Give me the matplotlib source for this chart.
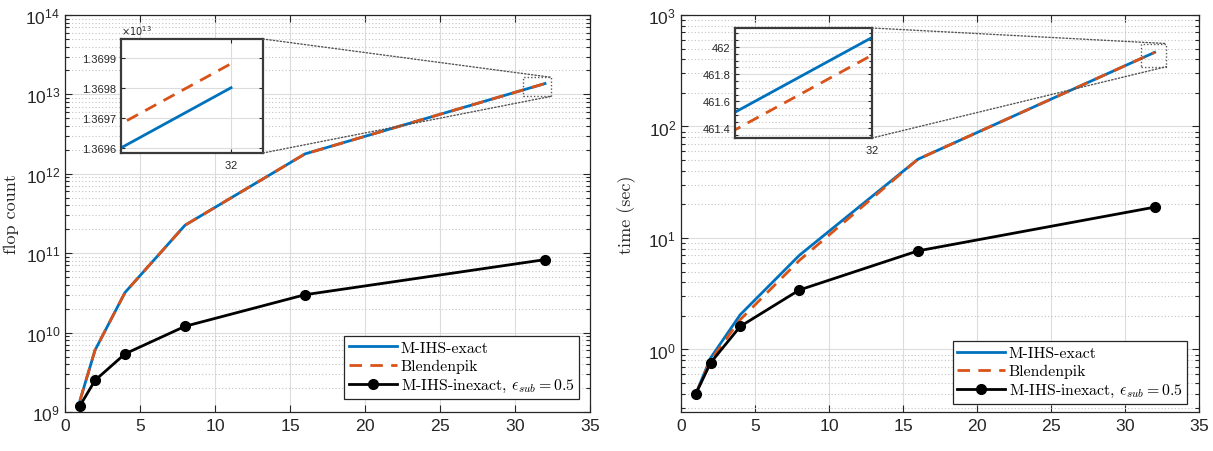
import matplotlib
matplotlib.use('Agg')
import matplotlib.pyplot as plt
from matplotlib.patches import Rectangle, ConnectionPatch
from matplotlib.ticker import LogLocator, NullFormatter, FixedLocator, FuncFormatter, MultipleLocator
from matplotlib.font_manager import FontProperties

plt.rcParams['font.family'] = ['Liberation Sans', 'DejaVu Sans']
plt.rcParams['mathtext.fontset'] = 'cm'
plt.rcParams['axes.formatter.use_mathtext'] = True

# ---------------- data ----------------
procs = [1, 2, 4, 8, 16, 32]
flops_exact = [1.4e9, 6.0e9, 3.2e10, 2.25e11, 1.78e12, 1.36980e13]
flops_blend = [1.4e9, 6.0e9, 3.2e10, 2.25e11, 1.78e12, 1.36988e13]
flops_inexact = [1.2e9, 2.5e9, 5.4e9, 1.2e10, 3.0e10, 8.3e10]
time_exact = [0.40, 0.84, 2.05, 7.0, 50.8, 462.07]
time_blend = [0.40, 0.80, 1.85, 6.3, 50.8, 461.94]
time_inexact = [0.40, 0.76, 1.61, 3.42, 7.66, 18.9]

labels = ['M-IHS-exact', 'Blendenpik', r'M-IHS-inexact, $\epsilon_{sub} = 0.5$']
ylabels = ['flop count', 'time (sec)']
xticks = [0, 5, 10, 15, 20, 25, 30, 35]

BLUE = '#0072BD'
ORANGE = '#D95319'
AXC = '#262626'
GRIDC = '#dcdcdc'
MINORC = '#c4c4c4'

W, H = 1213, 452
fig = plt.figure(figsize=(W / 100, H / 100), dpi=100)

def fig_rect(x0, y0, x1, y1):
    return [x0 / W, 1 - y1 / H, (x1 - x0) / W, (y1 - y0) / H]

ax1 = fig.add_axes(fig_rect(65, 16, 590, 413))
ax2 = fig.add_axes(fig_rect(681, 16, 1199, 413))

cmfont = FontProperties(family='cmr10', size=11.4)
cmlabel = FontProperties(family='cmr10', size=13)

def draw_main(ax, ye, yb, yi, ylim, ylabel, lab_x, leg_anchor):
    ax.plot(procs, ye, color=BLUE, lw=2, label=labels[0], zorder=3)
    ax.plot(procs, yb, color=ORANGE, lw=2, ls=(0, (4.5, 3)), label=labels[1], zorder=4)
    ax.plot(procs, yi, color='black', lw=2, marker='o', ms=7, label=labels[2], zorder=5)
    ax.set_yscale('log')
    ax.set_xlim(0, 35)
    ax.set_ylim(*ylim)
    ax.set_xticks(xticks)
    ax.yaxis.set_major_locator(LogLocator(base=10, numticks=20))
    ax.yaxis.set_minor_locator(LogLocator(base=10, subs=range(2, 10), numticks=100))
    ax.yaxis.set_minor_formatter(NullFormatter())
    ax.tick_params(which='both', direction='in', top=True, right=True, colors=AXC,
                   labelsize=12.5, width=0.8)
    ax.tick_params(which='major', length=5)
    ax.tick_params(which='minor', length=3)
    ax.grid(True, which='major', color=GRIDC, lw=0.8, zorder=0)
    ax.grid(True, which='minor', axis='y', color=MINORC, lw=0.8, ls=(0, (1, 2)), zorder=0)
    ax.set_axisbelow(True)
    for s in ax.spines.values():
        s.set_color(AXC)
        s.set_linewidth(0.9)
    ax.set_ylabel(ylabel, fontproperties=cmlabel, color=AXC)
    ax.yaxis.set_label_coords(lab_x, 0.5)
    leg = ax.legend(loc='lower right', bbox_to_anchor=leg_anchor, borderaxespad=0,
                    prop=cmfont, fancybox=False, framealpha=1, edgecolor=AXC,
                    handlelength=3.0, handletextpad=0.25, labelspacing=0.25,
                    borderpad=0.3)
    leg.get_frame().set_linewidth(0.9)
    leg.set_zorder(10)

draw_main(ax1, flops_exact, flops_blend, flops_inexact, (1e9, 1e14), ylabels[0], -0.088, (0.979, 0.033))
draw_main(ax2, time_exact, time_blend, time_inexact, (0.275, 1e3), ylabels[1], -0.086, (0.977, 0.02))

def draw_inset(ax, rect, ye, yb, xlim, ylim, yticks, fmt, minor=None, rect_box=None):
    ins = fig.add_axes(rect)
    ins.plot(procs, ye, color=BLUE, lw=2)
    ins.plot(procs, yb, color=ORANGE, lw=2, ls=(0, (4.5, 3)))
    ins.set_xlim(*xlim)
    ins.set_ylim(*ylim)
    ins.set_xticks([32])
    ins.set_yticks(yticks)
    ins.yaxis.set_major_formatter(FuncFormatter(fmt))
    ins.tick_params(which='both', direction='in', top=True, right=True, colors=AXC,
                    labelsize=8, length=3, width=0.8)
    ins.grid(True, which='major', color=GRIDC, lw=0.8)
    if minor is not None:
        ins.yaxis.set_minor_locator(MultipleLocator(minor))
        ins.grid(True, which='minor', axis='y', color=MINORC, lw=0.8, ls=(0, (1, 2)))
        ins.tick_params(which='minor', length=2)
    ins.set_axisbelow(True)
    for s in ins.spines.values():
        s.set_color('#3a3a3a')
        s.set_linewidth(1.6)
    # zoom box in main axes
    (rx0, rx1), (ry0, ry1) = rect_box
    ax.add_patch(Rectangle((rx0, ry0), rx1 - rx0, ry1 - ry0, fill=False,
                           ls=(0, (1, 1.5)), lw=1, edgecolor='#555555', zorder=6))
    for ya, yb_ in ((1, ry1), (0, ry0)):
        con = ConnectionPatch(xyA=(1, ya), coordsA=ins.transAxes,
                              xyB=(rx1, yb_), coordsB=ax.transData,
                              ls=(0, (1, 1.5)), lw=1, color='#555555', zorder=6)
        fig.add_artist(con)
    return ins

x_last = procs[-1]
ins1 = draw_inset(ax1, fig_rect(121, 40, 263, 154), flops_exact, flops_blend,
                  (31.997315, 32.00078), (1.369583e13, 1.369962e13),
                  [1.3696e13, 1.3697e13, 1.3698e13, 1.3699e13],
                  lambda v, p: f'{v / 1e13:.4f}',
                  rect_box=((x_last - 1.5, x_last + 0.4),
                            (flops_exact[-1] * 0.69, flops_exact[-1] * 1.2)))
ins1.text(0.0, 1.02, r'$\times10^{13}$', transform=ins1.transAxes, fontsize=7,
          color=AXC, math_fontfamily='dejavusans', va='bottom', ha='left')

ins2 = draw_inset(ax2, fig_rect(735, 29, 872, 139), time_exact, time_blend,
                  (31.9786, 32.0), (461.33, 462.14),
                  [461.4, 461.6, 461.8, 462.0],
                  lambda v, p: f'{v:g}', minor=0.05,
                  rect_box=((x_last - 0.9, x_last + 0.8),
                            (time_exact[-1] * 0.745, time_exact[-1] * 1.2)))

fig.savefig('out.png', dpi=100)
